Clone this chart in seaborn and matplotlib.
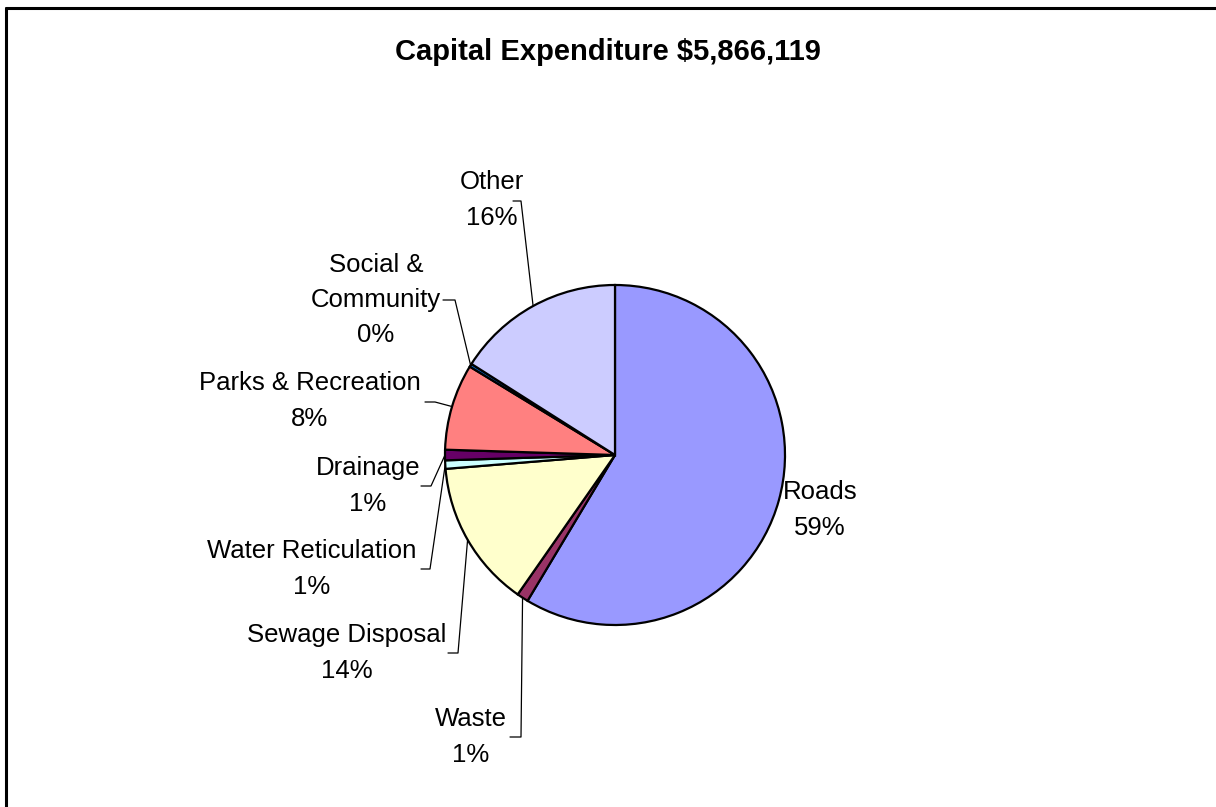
import numpy as np
import matplotlib
matplotlib.use("Agg")
import matplotlib.pyplot as plt
import seaborn as sns

# Capital expenditure by category (percent of total)
categories = ["Roads", "Waste", "Sewage Disposal", "Water Reticulation",
              "Drainage", "Parks & Recreation", "Social &\nCommunity", "Other"]
shares = [58.6, 1.1, 14.0, 0.8, 1.0, 8.2, 0.3, 16.0]
colors = ["#9999FF", "#993366", "#FFFFCC", "#CCFFFF",
          "#660066", "#FF8080", "#0066CC", "#CCCCFF"]
title = "Capital Expenditure \\$5,866,119"

sns.set_theme(style="white")
plt.rcParams["font.family"] = ["Liberation Sans", "DejaVu Sans"]

W, H = 1216, 807
fig = plt.figure(figsize=(W / 100, H / 100), dpi=100)
fig.patch.set_facecolor("white")

# pie geometry in pixels
cx, cy, r = 615, 455, 170
ax = fig.add_axes([(cx - r) / W, 1 - (cy + r) / H, 2 * r / W, 2 * r / H])
wedges, _ = ax.pie(shares, colors=colors, startangle=90, counterclock=False,
                   radius=1.0,
                   wedgeprops=dict(edgecolor="black", linewidth=1.6))
ax.set_xlim(-1, 1)
ax.set_ylim(-1, 1)
ax.set_aspect("equal")
ax.axis("off")


def to_data(px, py):
    return (px - cx) / r, (cy - py) / r


# label block centres and leader-line elbows (pixels)
layout = {
    "Roads": dict(text=(820, 510), elbow=None),
    "Waste": dict(text=(471, 737), elbow=((510, 737), (521, 737))),
    "Sewage Disposal": dict(text=(347, 653), elbow=((448, 653), (458, 653))),
    "Water Reticulation": dict(text=(312, 569), elbow=((421, 569), (430, 569))),
    "Drainage": dict(text=(368, 486), elbow=((421, 486), (431, 486))),
    "Parks & Recreation": dict(text=(310, 401), elbow=((425, 402), (435, 402))),
    "Social &\nCommunity": dict(text=(376, 300), elbow=((443, 300), (455, 300))),
    "Other": dict(text=(492, 200), elbow=((513, 201), (521, 201))),
}

total = sum(shares)
for wedge, name, val in zip(wedges, categories, shares):
    spec = layout[name]
    pct = f"{round(val / total * 100):.0f}%"
    tx, ty = to_data(*spec["text"])
    ax.text(tx, ty, f"{name}\n{pct}", ha="center", va="center",
            fontsize=18.5, color="black", linespacing=1.6, clip_on=False)
    if spec["elbow"] is not None:
        mid = np.deg2rad((wedge.theta1 + wedge.theta2) / 2)
        ex, ey = np.cos(mid), np.sin(mid)
        (ax0, ay0), (ax1, ay1) = [to_data(*p) for p in spec["elbow"]]
        ax.plot([ax0, ax1, ex], [ay0, ay1, ey], color="black",
                linewidth=0.9, clip_on=False, zorder=5)

fig.text(608 / W, 1 - 52 / H, title, ha="center", va="center",
         fontsize=21, fontweight="bold", color="black")

# chart area frame (left and top edges)
fig.add_artist(plt.Line2D([5.5 / W, 5.5 / W], [0, 1 - 7.5 / H],
                          color="black", linewidth=2.2,
                          transform=fig.transFigure))
fig.add_artist(plt.Line2D([5.5 / W, 1], [1 - 7.5 / H, 1 - 7.5 / H],
                          color="black", linewidth=2.2,
                          transform=fig.transFigure))

fig.savefig("out.png", dpi=100, facecolor="white")
